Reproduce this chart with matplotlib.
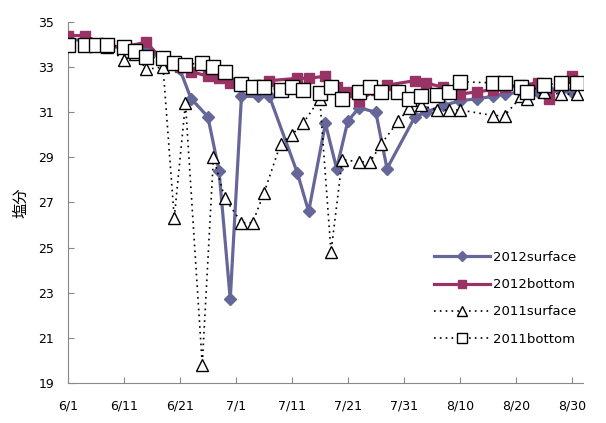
import numpy as np
import matplotlib.pyplot as plt
from datetime import date

plt.rcParams['font.family'] = ['DejaVu Sans', 'Noto Sans CJK JP']

# 2012 observations
days_2012 = ['6/1', '6/4', '6/8', '6/11', '6/15', '6/18', '6/21', '6/23', '6/26', '6/28',
             '6/30', '7/2', '7/5', '7/7', '7/12', '7/14', '7/17', '7/19', '7/21', '7/23',
             '7/26', '7/28', '8/2', '8/4', '8/7', '8/10', '8/13', '8/16', '8/18', '8/21',
             '8/24', '8/26', '8/28', '8/30']
surface_2012 = [34.2, 34.2, 33.9, 33.9, 33.8, 33.3, 32.9, 31.6, 30.8, 28.4,
                22.7, 31.7, 31.7, 31.7, 28.3, 26.6, 30.5, 28.5, 30.6, 31.2,
                31.0, 28.5, 30.8, 31.0, 31.3, 31.5, 31.6, 31.7, 31.8, 31.9,
                31.9, 32.0, 32.0, 31.9]
bottom_2012 = [34.4, 34.4, 33.9, 33.9, 34.1, 33.3, 33.0, 32.8, 32.6, 32.5,
               32.3, 32.2, 32.2, 32.4, 32.5, 32.5, 32.6, 32.1, 31.9, 31.5,
               32.0, 32.2, 32.4, 32.3, 32.1, 31.8, 31.9, 32.0, 32.1, 32.2,
               32.3, 31.6, 32.3, 32.6]

# 2011 observations
days_2011 = ['6/1', '6/4', '6/6', '6/8', '6/11', '6/13', '6/15', '6/18', '6/20', '6/22',
             '6/25', '6/27', '6/29', '7/2', '7/4', '7/6', '7/9', '7/11', '7/13', '7/16',
             '7/18', '7/20', '7/23', '7/25', '7/27', '7/30', '8/1', '8/3', '8/6', '8/8',
             '8/10', '8/16', '8/18', '8/21', '8/22', '8/25', '8/28', '8/31']
surface_2011 = [34.0, 34.0, 34.0, 33.9, 33.3, 33.6, 32.9, 33.0, 26.3, 31.4,
                19.8, 29.0, 27.2, 26.1, 26.1, 27.4, 29.6, 30.0, 30.5, 31.6,
                24.8, 28.9, 28.8, 28.8, 29.6, 30.6, 31.2, 31.3, 31.1, 31.1,
                31.1, 30.85, 30.85, 31.7, 31.6, 31.9, 31.8, 31.8]
bottom_2011 = [34.0, 34.0, 34.0, 34.0, 33.9, 33.7, 33.45, 33.4, 33.2, 33.1,
               33.2, 33.0, 32.8, 32.25, 32.1, 32.1, 32.0, 32.1, 32.0, 31.85,
               32.1, 31.6, 31.9, 32.1, 31.9, 31.9, 31.6, 31.7, 31.75, 31.9,
               32.35, 32.3, 32.3, 32.1, 31.9, 32.2, 32.3, 32.3]

tick_labels = ['6/1', '6/11', '6/21', '7/1', '7/11', '7/21', '7/31', '8/10', '8/20', '8/30']


def to_day(s):
    m, d = map(int, s.split('/'))
    return (date(2012, m, d) - date(2012, 6, 1)).days


x12 = [to_day(s) for s in days_2012]
x11 = [to_day(s) for s in days_2011]

fig = plt.figure(figsize=(6.06, 4.23), dpi=100)
ax = fig.add_axes([0.112, 0.095, 0.85, 0.853])

ax.plot(x12, surface_2012, color='#666699', lw=2.3, marker='D', ms=6,
        label='2012surface', zorder=2)
ax.plot(x12, bottom_2012, color='#993366', lw=2.3, marker='s', ms=7,
        label='2012bottom', zorder=3)
ax.plot(x11, surface_2011, color='black', lw=1.2, ls=(0, (1, 2.5)), marker='^',
        ms=8.5, mfc='white', mec='black', mew=1, label='2011surface', zorder=4)
ax.plot(x11, bottom_2011, color='black', lw=1.2, ls=(0, (1, 2.5)), marker='s',
        ms=9.5, mfc='white', mec='black', mew=1, label='2011bottom', zorder=5)

ax.set_xlim(0, 92)
ax.set_ylim(19, 35)
ax.set_xticks([to_day(s) for s in tick_labels])
ax.set_xticklabels(tick_labels)
ax.set_yticks(np.arange(19, 36, 2))
ax.tick_params(direction='in', length=4, color='#888888', labelsize=9, pad=12)
ax.tick_params(axis='y', pad=10)
for side in ['top', 'right']:
    ax.spines[side].set_visible(False)
for side in ['left', 'bottom']:
    ax.spines[side].set_color('#888888')

ax.set_ylabel('塩分', family=['Noto Sans CJK JP'], fontsize=11, labelpad=6)

leg = ax.legend(loc='lower right', bbox_to_anchor=(1.01, 0.07), frameon=False,
                fontsize=9.5, handlelength=4.3, labelspacing=1.08, handletextpad=0.2,
                markerscale=0.8)

fig.savefig('out.png', dpi=100)
